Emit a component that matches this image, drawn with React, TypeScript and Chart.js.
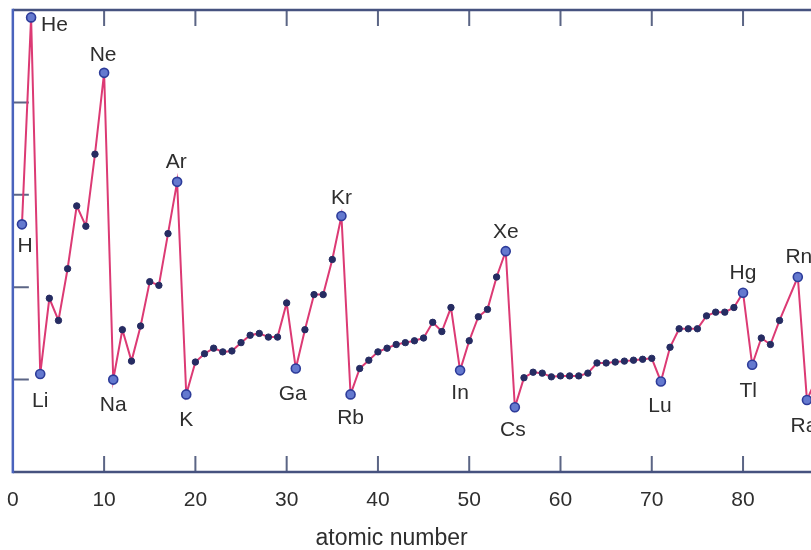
import React, { useEffect, useRef } from "react";
import { Chart, registerables } from "chart.js";

Chart.register(...registerables);

// Atomic numbers (x categories)
const ATOMIC_NUMBERS = [
  1, 2, 3, 4, 5, 6, 7, 8, 9, 10,
  11, 12, 13, 14, 15, 16, 17, 18, 19, 20,
  21, 22, 23, 24, 25, 26, 27, 28, 29, 30,
  31, 32, 33, 34, 35, 36, 37, 38, 39, 40,
  41, 42, 43, 44, 45, 46, 47, 48, 49, 50,
  51, 52, 53, 54, 55, 56, 57, 58, 59, 60,
  61, 62, 63, 64, 65, 66, 67, 68, 69, 70,
  71, 72, 73, 74, 75, 76, 77, 78, 79, 80,
  81, 82, 83, 84, 85, 86, 87, 88,
];

// First ionization energy (eV); null = no point
const ENERGY: (number | null)[] = [
  13.4, 24.6, 5.3, 9.4, 8.2, 11.0, 14.4, 13.3, 17.2, 21.6,
  5.0, 7.7, 6.0, 7.9, 10.3, 10.1, 12.9, 15.7, 4.2, 5.95,
  6.4, 6.7, 6.5, 6.55, 7.0, 7.4, 7.5, 7.3, 7.3, 9.15,
  5.6, 7.7, 9.6, 9.6, 11.5, 13.85, 4.2, 5.6, 6.05, 6.5,
  6.7, 6.9, 7.0, 7.1, 7.25, 8.1, 7.6, 8.9, 5.5, 7.1,
  8.4, 8.8, 10.55, 11.95, 3.5, 5.1, 5.4, 5.35, 5.15, 5.2,
  5.2, 5.2, 5.35, 5.9, 5.9, 5.95, 6.0, 6.05, 6.1, 6.15,
  4.9, 6.75, 7.75, 7.75, 7.75, 8.45, 8.65, 8.65, 8.9, 9.7,
  5.8, 7.25, 6.9, 8.2, null, 10.55, 3.9, 5.0,
];

// Labelled elements
const LABEL_SYMBOLS = ["H", "He", "Li", "Ne", "Na", "Ar", "K", "Ga", "Kr", "Rb", "In", "Xe", "Cs", "Lu", "Hg", "Tl", "Rn", "Ra"];
const LABEL_Z = [1, 2, 3, 10, 11, 18, 19, 31, 36, 37, 49, 54, 55, 71, 80, 81, 86, 87];

// Axis ticks
const X_TICKS = [0, 10, 20, 30, 40, 50, 60, 70, 80, 90];
const Y_TICKS = [5, 10, 15, 20];
const X_TITLE = "atomic number";

// Label placement (style, kept apart from data)
const PLACEMENT: Record<string, { pos: string; dx: number; dy: number }> = {
  H: { pos: "below", dx: 3, dy: 22 },
  He: { pos: "right", dx: 10, dy: 8 },
  Li: { pos: "below", dx: 0, dy: 27 },
  Ne: { pos: "above", dx: -1, dy: -18 },
  Na: { pos: "below", dx: 0, dy: 26 },
  Ar: { pos: "above", dx: -1, dy: -20 },
  K: { pos: "below", dx: 0, dy: 26 },
  Ga: { pos: "below", dx: -3, dy: 26 },
  Kr: { pos: "above", dx: 0, dy: -18 },
  Rb: { pos: "below", dx: 0, dy: 24 },
  In: { pos: "below", dx: 0, dy: 23 },
  Xe: { pos: "above", dx: 0, dy: -19 },
  Cs: { pos: "below", dx: -2, dy: 23 },
  Lu: { pos: "below", dx: -1, dy: 25 },
  Hg: { pos: "above", dx: 0, dy: -20 },
  Tl: { pos: "below", dx: -4, dy: 26 },
  Rn: { pos: "above", dx: 1, dy: -20 },
  Ra: { pos: "below", dx: -3, dy: 26 },
};

const FONT = '"Liberation Sans", Arial, Helvetica, sans-serif';
const TEXT_COLOR = "#2e2e2e";
const TICK_LEN = 16;

const framePlugin = {
  id: "frame",
  beforeDatasetsDraw(chart: any) {
    const { ctx, chartArea, scales } = chart;
    const { left, right, top, bottom } = chartArea;
    const xs = scales.x;
    const ys = scales.y;
    ctx.save();
    // inward ticks
    ctx.strokeStyle = "#5b6585";
    ctx.lineWidth = 2;
    ctx.beginPath();
    X_TICKS.forEach((t) => {
      if (t === 0) return;
      const px = xs.getPixelForValue(t);
      ctx.moveTo(px, bottom);
      ctx.lineTo(px, bottom - TICK_LEN);
      ctx.moveTo(px, top);
      ctx.lineTo(px, top + TICK_LEN);
    });
    Y_TICKS.forEach((t) => {
      const py = ys.getPixelForValue(t);
      ctx.moveTo(left, py);
      ctx.lineTo(left + TICK_LEN, py);
    });
    ctx.stroke();
    // top & bottom border
    ctx.strokeStyle = "#46527f";
    ctx.lineWidth = 2.5;
    ctx.beginPath();
    ctx.moveTo(left, top);
    ctx.lineTo(right, top);
    ctx.moveTo(left, bottom);
    ctx.lineTo(right, bottom);
    ctx.stroke();
    // left border
    ctx.strokeStyle = "#4a63bd";
    ctx.beginPath();
    ctx.moveTo(left, top - 1.25);
    ctx.lineTo(left, bottom + 1.25);
    ctx.stroke();
    ctx.restore();
  },
  afterDraw(chart: any) {
    // axis title, centred under the full original figure
    const { ctx, scales } = chart;
    ctx.save();
    ctx.font = `23px ${FONT}`;
    ctx.fillStyle = TEXT_COLOR;
    ctx.textAlign = "center";
    ctx.textBaseline = "middle";
    ctx.fillText(X_TITLE, scales.x.getPixelForValue(41.5), scales.x.bottom - 13);
    ctx.restore();
  },
};

const labelPlugin = {
  id: "elementLabels",
  afterDatasetsDraw(chart: any) {
    const { ctx } = chart;
    const meta = chart.getDatasetMeta(0);
    ctx.save();
    ctx.font = `21px ${FONT}`;
    ctx.fillStyle = TEXT_COLOR;
    ctx.textBaseline = "middle";
    LABEL_SYMBOLS.forEach((sym, i) => {
      const idx = ATOMIC_NUMBERS.indexOf(LABEL_Z[i]);
      const el = meta.data[idx];
      if (!el) return;
      const p = PLACEMENT[sym] || { pos: "below", dx: 0, dy: 25 };
      ctx.textAlign = p.pos === "right" ? "left" : "center";
      ctx.fillText(sym, el.x + p.dx, el.y + p.dy);
    });
    ctx.restore();
  },
};

export default function App() {
  const canvasRef = useRef<HTMLCanvasElement | null>(null);

  useEffect(() => {
    if (!canvasRef.current) return;
    const isLabelled = (i: number) => LABEL_Z.includes(ATOMIC_NUMBERS[i]);
    const chart = new Chart(canvasRef.current, {
      type: "line",
      data: {
        datasets: [
          {
            data: ATOMIC_NUMBERS.map((z, i) => ({ x: z, y: ENERGY[i] })) as any,
            borderColor: "#dc3a74",
            borderWidth: 2,
            tension: 0,
            spanGaps: true,
            clip: false as any,
            pointRadius: (c: any) => (isLabelled(c.dataIndex) ? 4.5 : 3.2),
            pointBackgroundColor: (c: any) => (isLabelled(c.dataIndex) ? "#6479cf" : "#262c62"),
            pointBorderColor: (c: any) => (isLabelled(c.dataIndex) ? "#2d3c9a" : "#262c62"),
            pointBorderWidth: (c: any) => (isLabelled(c.dataIndex) ? 1.6 : 1),
          },
        ],
      },
      options: {
        animation: false,
        responsive: true,
        maintainAspectRatio: false,
        layout: { padding: { left: 13, top: 10, right: 20, bottom: 0 } },
        plugins: {
          legend: { display: false },
          tooltip: { enabled: false },
        },
        scales: {
          x: {
            type: "linear",
            position: "bottom",
            min: 0,
            max: 90,
            grid: { display: false, drawTicks: false },
            border: { display: false },
            afterBuildTicks: (s: any) => {
              s.ticks = X_TICKS.map((v) => ({ value: v }));
            },
            ticks: {
              padding: 16,
              color: TEXT_COLOR,
              font: { family: FONT, size: 21 },
              autoSkip: false,
              maxRotation: 0,
              callback: (v: any) => String(v),
            },
            title: { display: false },
            afterFit: (s: any) => {
              s.height = 80;
            },
          },
          y: {
            type: "linear",
            min: 0,
            max: 25,
            display: false,
          },
        },
      },
      plugins: [framePlugin, labelPlugin],
    });
    return () => chart.destroy();
  }, []);

  return (
    <div style={{ position: "fixed", left: -9, top: 0, width: 871, height: 552, background: "#fff" }}>
      <canvas ref={canvasRef} />
    </div>
  );
}
